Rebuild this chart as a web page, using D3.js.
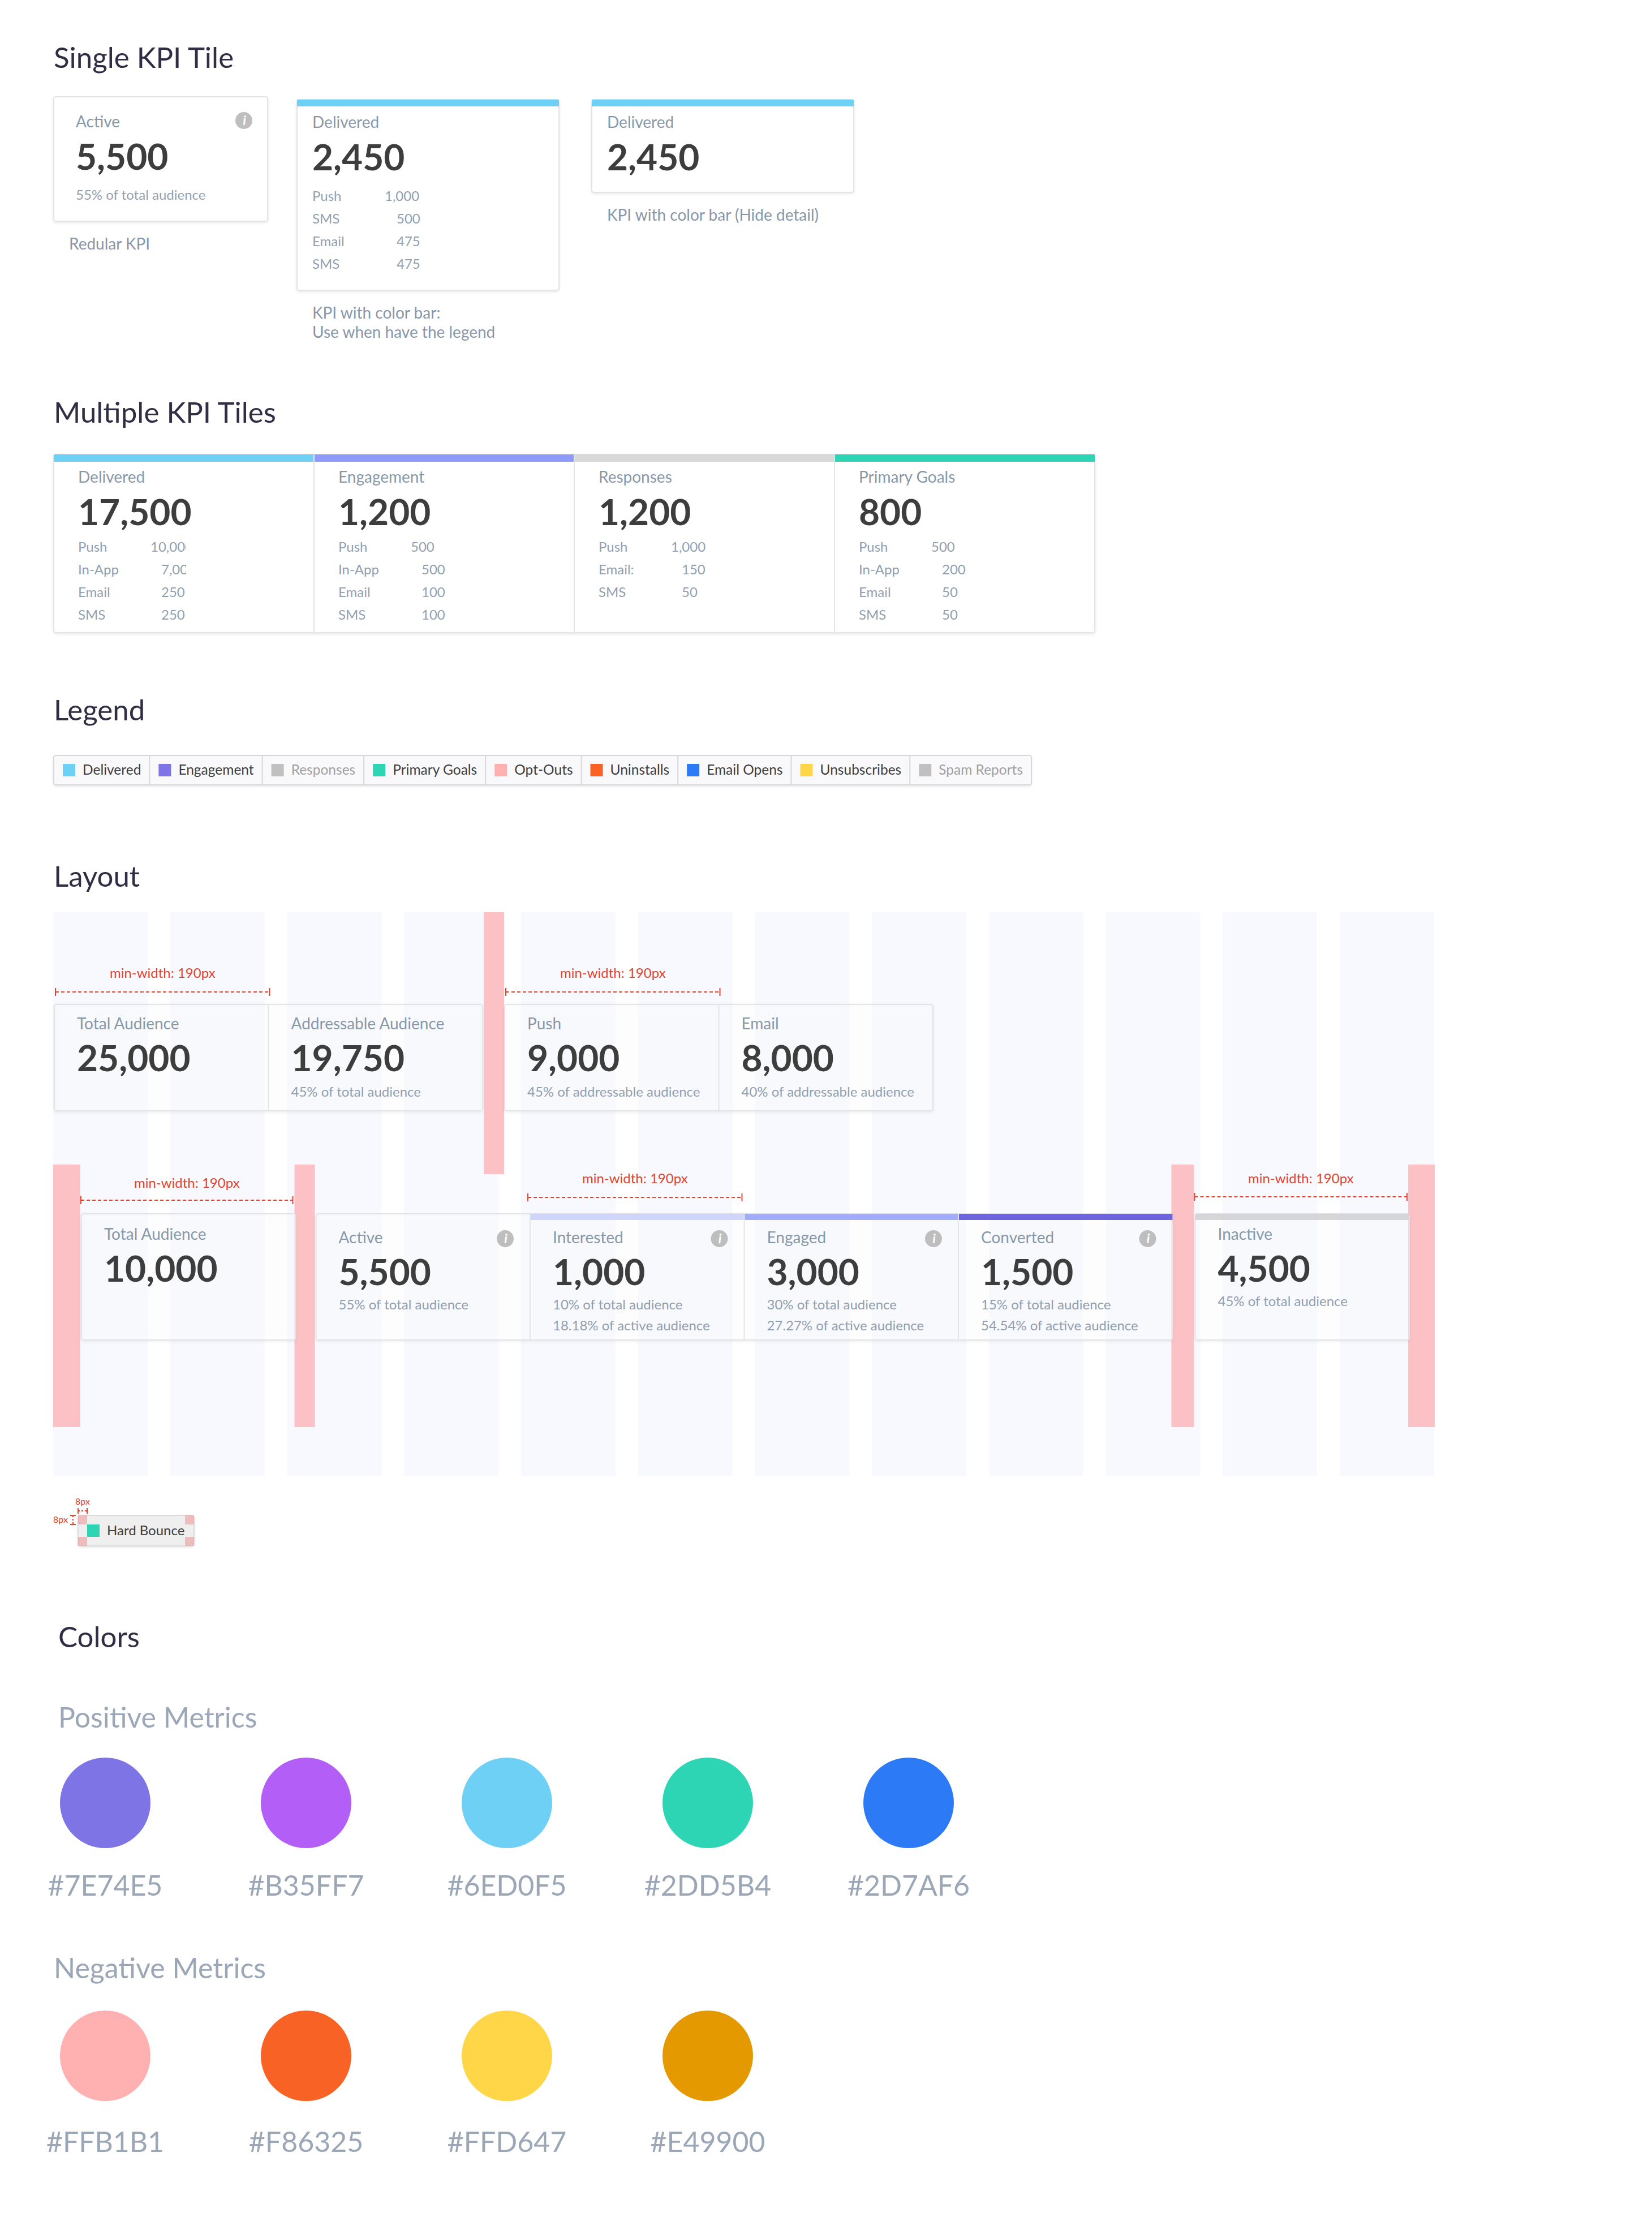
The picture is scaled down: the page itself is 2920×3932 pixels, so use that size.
<!DOCTYPE html>
<html>
<head>
<meta charset="utf-8">
<script src="https://cdn.jsdelivr.net/npm/d3@7"></script>
<style>
  body { margin: 0; background: #fff; }
  text { font-family: Lato, "Open Sans", "Noto Sans", sans-serif; }
</style>
</head>
<body>
<svg id="sheet"></svg>
<script>
// ---- values ----
const singleLabels = ["Active", "Delivered", "Delivered"]
const singleValues = [5500, 2450, 2450]
const singleNotes = ["55% of total audience", "", ""]
const singleChannels = ["Push", "SMS", "Email", "SMS"]
const singleChannelValues = [1000, 500, 475, 475]
const singleCaptions = [["Redular KPI"], ["KPI with color bar:", "Use when have the legend"], ["KPI with color bar (Hide detail)"]]

const multiLabels = ["Delivered", "Engagement", "Responses", "Primary Goals"]
const multiValues = [17500, 1200, 1200, 800]
const multiChannels = [
    ["Push", "In-App", "Email", "SMS"],
    ["Push", "In-App", "Email", "SMS"],
    ["Push", "Email:", "SMS"],
    ["Push", "In-App", "Email", "SMS"]]
const multiChannelValues = [[10000, 7000, 250, 250], [500, 500, 100, 100], [1000, 150, 50], [500, 200, 50, 50]]

const legendNames = ["Delivered", "Engagement", "Responses", "Primary Goals", "Opt-Outs",
                     "Uninstalls", "Email Opens", "Unsubscribes", "Spam Reports"]
const legendMuted = ["Responses", "Spam Reports"]

const topLabels = ["Total Audience", "Addressable Audience", "Push", "Email"]
const topValues = [25000, 19750, 9000, 8000]
const topNotes = ["", "45% of total audience", "45% of addressable audience", "40% of addressable audience"]

const funnelLabels = ["Total Audience", "Active", "Interested", "Engaged", "Converted", "Inactive"]
const funnelValues = [10000, 5500, 1000, 3000, 1500, 4500]
const funnelNotes = [
    [],
    ["55% of total audience"],
    ["10% of total audience", "18.18% of active audience"],
    ["30% of total audience", "27.27% of active audience"],
    ["15% of total audience", "54.54% of active audience"],
    ["45% of total audience"]]
const funnelInfo = ["Active", "Interested", "Engaged", "Converted"]

const minWidthText = "min-width: 190px"
const spacingText = "8px"
const chipLabel = "Hard Bounce"

const positiveHex = ["#7E74E5", "#B35FF7", "#6ED0F5", "#2DD5B4", "#2D7AF6"]
const negativeHex = ["#FFB1B1", "#F86325", "#FFD647", "#E49900"]

// ---- styles ----
const legendColor = {
    "Delivered": "#6ED0F5", "Engagement": "#7E74E5", "Responses": "#C0C0C0", "Primary Goals": "#2DD5B4",
    "Opt-Outs": "#FFB1B1", "Uninstalls": "#F86325", "Email Opens": "#2D7AF6", "Unsubscribes": "#FFD647",
    "Spam Reports": "#C0C0C0"}
const multiBarColor = {"Delivered": "#6ED0F5", "Engagement": "#8E9BFD", "Responses": "#D8D8D8", "Primary Goals": "#2DD5B4"}
const funnelBarColor = {"Interested": "#CFD5FB", "Engaged": "#A2ACFB", "Converted": "#6F64E0", "Inactive": "#D6D6D8"}

const ink = {
    title: "#302e45", label: "#8798a9", number: "#3d3d3d", note: "#919fb0",
    caption: "#8796a8", red: "#e2432c", border: "#e3e4e8", pale: "#9ba6b7"}

const fmt = d3.format(",")
const W = 2920, H = 3932
const NOTE = 24

const svg = d3.select("#sheet").attr("width", W).attr("height", H)
svg.append("rect").attr("width", W).attr("height", H).attr("fill", "#fff")

const defs = svg.append("defs")
defs.append("filter").attr("id", "shadow")
    .attr("x", "-5%").attr("y", "-5%").attr("width", "110%").attr("height", "125%")
    .append("feDropShadow")
    .attr("dx", 0).attr("dy", 2).attr("stdDeviation", 2)
    .attr("flood-color", "#000").attr("flood-opacity", 0.09)

function heading(text, x, y) {
    svg.append("text").attr("x", x).attr("y", y)
        .attr("font-size", 51).attr("fill", ink.title).text(text)
}

function card(g, x, y, w, h, fill) {
    return g.append("rect").attr("x", x).attr("y", y).attr("width", w).attr("height", h)
        .attr("rx", 4).attr("fill", fill || "#fff")
        .attr("stroke", ink.border).attr("stroke-width", 2)
        .attr("filter", "url(#shadow)")
}

function label(g, x, y, text, size, color, weight) {
    return g.append("text").attr("x", x).attr("y", y)
        .attr("font-size", size).attr("fill", color)
        .attr("font-weight", weight || 400).text(text)
}

function infoIcon(g, cx, cy) {
    g.append("circle").attr("cx", cx).attr("cy", cy).attr("r", 15).attr("fill", "#bebebe")
    g.append("text").attr("x", cx + 1).attr("y", cy + 8).attr("text-anchor", "middle")
        .attr("font-size", 23).attr("font-weight", 700).attr("font-style", "italic")
        .attr("font-family", "'DejaVu Serif', serif").attr("fill", "#fff").text("i")
}

function minWidth(g, x0, x1, lineY, textY) {
    g.append("line").attr("x1", x0).attr("x2", x1).attr("y1", lineY).attr("y2", lineY)
        .attr("stroke", ink.red).attr("stroke-width", 2).attr("stroke-dasharray", "6,4")
    ;[x0, x1].forEach(x => g.append("line").attr("x1", x).attr("x2", x)
        .attr("y1", lineY - 7).attr("y2", lineY + 7).attr("stroke", ink.red).attr("stroke-width", 2))
    g.append("text").attr("x", (x0 + x1) / 2).attr("y", textY).attr("text-anchor", "middle")
        .attr("font-size", 24).attr("fill", ink.red).text(minWidthText)
}

// ---- Single KPI Tile ----
heading("Single KPI Tile", 95, 120)

const single = svg.append("g")
const singleX = [95, 525, 1046], singleW = [378, 463, 463], singleTop = [171, 176, 176]
singleLabels.forEach((name, i) => {
    const x = singleX[i], y = singleTop[i], w = singleW[i]
    const hasBar = i > 0
    const rows = i === 1 ? singleChannels : []
    const h = i === 0 ? 220 : 164 + (rows.length ? rows.length * 40 + 13 : 0)
    card(single, x, y, w, h)
    if (hasBar) single.append("rect").attr("x", x).attr("y", y).attr("width", w).attr("height", 12)
        .attr("fill", legendColor["Delivered"])
    const pad = i === 0 ? 39 : 27
    const off = hasBar ? -2 : 2
    label(single, x + pad, y + 52 + off, name, 28, ink.label)
    label(single, x + pad, y + 127 + off, fmt(singleValues[i]), 64, ink.number, 700)
    if (singleNotes[i]) label(single, x + pad, y + 182, singleNotes[i], NOTE, ink.note)
    if (i === 0) infoIcon(single, x + w - 42, y + 42)
    rows.forEach((ch, r) => {
        const ry = y + 179 + r * 40
        label(single, x + pad, ry, ch, NOTE, ink.note)
        label(single, x + (r === 0 ? 155 : 176), ry, fmt(singleChannelValues[r]), NOTE, ink.note)
    })
    singleCaptions[i].forEach((line, k) => {
        label(single, x + 27, y + h + 50 + k * 34, line, 28, ink.caption)
    })
})

// ---- Multiple KPI Tiles ----
heading("Multiple KPI Tiles", 95, 747)

const multi = svg.append("g")
const mx = d3.scaleBand().domain(multiLabels).range([95, 1935])
const mTop = 803, mH = 315
card(multi, mx.range()[0], mTop, mx.range()[1] - mx.range()[0], mH)
multiLabels.forEach((name, i) => {
    const x = mx(name)
    multi.append("rect").attr("x", x).attr("y", mTop).attr("width", mx.bandwidth()).attr("height", 13)
        .attr("fill", multiBarColor[name])
    if (i > 0) multi.append("line").attr("x1", x).attr("x2", x).attr("y1", mTop).attr("y2", mTop + mH)
        .attr("stroke", ink.border).attr("stroke-width", 2)
    label(multi, x + 43, mTop + 50, name, 28, ink.label)
    label(multi, x + 43, mTop + 125, fmt(multiValues[i]), 64, ink.number, 700)

    const clipId = "mclip" + i
    defs.append("clipPath").attr("id", clipId).append("rect")
        .attr("x", x).attr("y", mTop).attr("width", 234).attr("height", mH)
    const rowsG = multi.append("g").attr("clip-path", `url(#${clipId})`)
    multiChannels[i].forEach((ch, r) => {
        const ry = mTop + 172 + r * 40
        label(multi, x + 43, ry, ch, NOTE, ink.note)
        label(rowsG, x + (r === 0 ? 171 : 190), ry, fmt(multiChannelValues[i][r]), NOTE, ink.note)
    })
})

// ---- Legend ----
heading("Legend", 95, 1273)

const legend = svg.append("g")
const lgTop = 1335, lgH = 52
const lgBox = legend.append("rect").attr("x", 95).attr("y", lgTop).attr("height", lgH)
    .attr("rx", 4).attr("fill", "#f9f9fb").attr("stroke", "#d8d8da").attr("stroke-width", 2)
    .attr("filter", "url(#shadow)")
let lx = 95
legendNames.forEach((name, i) => {
    const muted = legendMuted.includes(name)
    legend.append("rect").attr("x", lx + 16).attr("y", lgTop + 15).attr("width", 22).attr("height", 22)
        .attr("fill", legendColor[name])
    const t = label(legend, lx + 51, lgTop + 34, name, 24.5, muted ? "#a0a0a0" : "#3d3d3d")
    const cellW = 51 + t.node().getComputedTextLength() + 15
    lx += cellW
    if (i < legendNames.length - 1) legend.append("line").attr("x1", lx).attr("x2", lx)
        .attr("y1", lgTop).attr("y2", lgTop + lgH).attr("stroke", "#d8d8da").attr("stroke-width", 2)
})
lgBox.attr("width", lx - 95)

// ---- Layout ----
heading("Layout", 95, 1567)

const layout = svg.append("g")
const gridTop = 1612, gridBottom = 2608
const cols = d3.scaleBand().domain(d3.range(12)).range([94, 2535]).paddingInner(0.192)
layout.selectAll("rect.col").data(cols.domain()).join("rect").attr("class", "col")
    .attr("x", d => cols(d)).attr("y", gridTop).attr("width", cols.bandwidth())
    .attr("height", gridBottom - gridTop).attr("fill", "#f7f9fe")

const tileW = 378.5
const pink = "#fbc1c5"

// top row: two groups of two tiles
const topX = i => 96 + i * tileW + (i >= 2 ? 39 : 0)
const topY = 1775, topH = 188
layout.append("rect").attr("x", topX(2) - 37).attr("y", gridTop).attr("width", 36)
    .attr("height", 2075 - gridTop).attr("fill", pink)
;[[0, 1], [2, 3]].forEach(pair => {
    const x0 = topX(pair[0]), x1 = topX(pair[1]) + tileW
    card(layout, x0, topY, x1 - x0, topH, "rgba(255,255,255,0.35)")
    layout.append("line").attr("x1", topX(pair[1])).attr("x2", topX(pair[1]))
        .attr("y1", topY).attr("y2", topY + topH).attr("stroke", ink.border).attr("stroke-width", 2)
})
topLabels.forEach((name, i) => {
    const x = topX(i) + 40
    label(layout, x, topY + 44, name, 28, ink.label)
    label(layout, x, topY + 118, fmt(topValues[i]), 64, ink.number, 700)
    if (topNotes[i]) label(layout, x, topY + 163, topNotes[i], NOTE, ink.note)
})
minWidth(layout, topX(0) + 2, topX(0) + tileW + 2, 1753, 1728)
minWidth(layout, topX(2) + 2, topX(2) + tileW + 2, 1753, 1728)

// bottom row: single, group of four, single
const lowX = i => 144 + i * tileW + (i >= 1 ? 36 : 0) + (i >= 5 ? 40 : 0)
const lowY = 2145, lowH = 223
const gaps = [[94, lowX(0)], [lowX(0) + tileW, lowX(1)], [lowX(4) + tileW, lowX(5)], [lowX(5) + tileW, 2538]]
layout.selectAll("rect.gap").data(gaps).join("rect").attr("class", "gap")
    .attr("x", d => d[0] + (d[0] > 94 ? -2 : 0)).attr("y", 2058)
    .attr("width", d => d[1] - d[0] - (d[0] > 94 ? 0 : 2)).attr("height", 2522 - 2058)
    .attr("fill", pink)

card(layout, lowX(0), lowY, tileW, lowH, "rgba(255,255,255,0.35)")
card(layout, lowX(1), lowY, lowX(4) + tileW - lowX(1), lowH, "rgba(255,255,255,0.35)")
card(layout, lowX(5), lowY, tileW, lowH, "rgba(255,255,255,0.35)")
funnelLabels.forEach((name, i) => {
    const x = lowX(i)
    if (funnelBarColor[name]) layout.append("rect").attr("x", x).attr("y", lowY)
        .attr("width", tileW).attr("height", 11).attr("fill", funnelBarColor[name])
    if (i >= 2 && i <= 4) layout.append("line").attr("x1", x).attr("x2", x)
        .attr("y1", lowY).attr("y2", lowY + lowH).attr("stroke", ink.border).attr("stroke-width", 2)
    const hasInfo = funnelInfo.includes(name)
    const off = hasInfo ? 6 : 0
    label(layout, x + 40, lowY + 46 + off, name, 28, ink.label)
    label(layout, x + 40, lowY + 120 + off, fmt(funnelValues[i]), 64, ink.number, 700)
    funnelNotes[i].forEach((n, k) => label(layout, x + 40, lowY + 163 + off + k * 37, n, NOTE, ink.note))
    if (hasInfo) infoIcon(layout, x + tileW - 44, lowY + 44)
})
minWidth(layout, lowX(0) - 1, lowX(0) + tileW - 5, 2121, 2099)
minWidth(layout, lowX(2) - 4, lowX(2) + tileW - 4, 2116, 2091)
minWidth(layout, lowX(5) - 1, lowX(5) + tileW - 4, 2115, 2091)

// ---- chip spacing spec ----
const chip = svg.append("g")
const cx0 = 138, cy0 = 2678, cw = 205, ch = 54, inset = 16
chip.append("rect").attr("x", cx0).attr("y", cy0).attr("width", cw).attr("height", ch).attr("rx", 4)
    .attr("fill", "#efefef").attr("stroke", "#d3d3d3").attr("stroke-width", 1.5).attr("filter", "url(#shadow)")
;[[0, 0], [1, 0], [0, 1], [1, 1]].forEach(([a, b]) => chip.append("rect")
    .attr("x", cx0 + a * (cw - inset)).attr("y", cy0 + b * (ch - inset))
    .attr("width", inset).attr("height", inset).attr("fill", "rgba(236,140,140,0.5)"))
chip.append("rect").attr("x", cx0 + inset).attr("y", cy0 + inset).attr("width", 22).attr("height", 22)
    .attr("fill", legendColor["Primary Goals"])
label(chip, cx0 + 51, cy0 + 35, chipLabel, 24, "#3d3d3d")

chip.append("line").attr("x1", cx0).attr("x2", cx0 + inset).attr("y1", cy0 - 8).attr("y2", cy0 - 8)
    .attr("stroke", ink.red).attr("stroke-width", 2).attr("stroke-dasharray", "3,3")
;[cx0, cx0 + inset].forEach(x => chip.append("line").attr("x1", x).attr("x2", x)
    .attr("y1", cy0 - 13).attr("y2", cy0 - 3).attr("stroke", ink.red).attr("stroke-width", 2))
chip.append("text").attr("x", cx0 + inset / 2).attr("y", cy0 - 19).attr("text-anchor", "middle")
    .attr("font-size", 16).attr("fill", ink.red).text(spacingText)
chip.append("line").attr("x1", cx0 - 9).attr("x2", cx0 - 9).attr("y1", cy0).attr("y2", cy0 + inset)
    .attr("stroke", ink.red).attr("stroke-width", 2).attr("stroke-dasharray", "3,3")
;[cy0, cy0 + inset].forEach(y => chip.append("line").attr("x1", cx0 - 14).attr("x2", cx0 - 4)
    .attr("y1", y).attr("y2", y).attr("stroke", ink.red).attr("stroke-width", 2))
chip.append("text").attr("x", cx0 - 18).attr("y", cy0 + 13).attr("text-anchor", "end")
    .attr("font-size", 16).attr("fill", ink.red).text(spacingText)

// ---- Colors ----
heading("Colors", 103, 2911)

const swatchX = d3.scaleLinear().domain([0, 4]).range([186, 1606])

function swatchRow(title, hexes, titleY, circleY, textY, titleX) {
    const g = svg.append("g")
    g.append("text").attr("x", titleX).attr("y", titleY).attr("font-size", 50)
        .attr("fill", ink.pale).text(title)
    g.selectAll("circle").data(hexes).join("circle")
        .attr("cx", (d, i) => swatchX(i)).attr("cy", circleY).attr("r", 80).attr("fill", d => d)
    g.selectAll("text.hex").data(hexes).join("text").attr("class", "hex")
        .attr("x", (d, i) => swatchX(i)).attr("y", textY).attr("text-anchor", "middle")
        .attr("font-size", 50).attr("fill", ink.pale).text(d => d)
}
swatchRow("Positive Metrics", positiveHex, 3053, 3186, 3350, 103)
swatchRow("Negative Metrics", negativeHex, 3496, 3633, 3803, 95)
</script>
</body>
</html>
